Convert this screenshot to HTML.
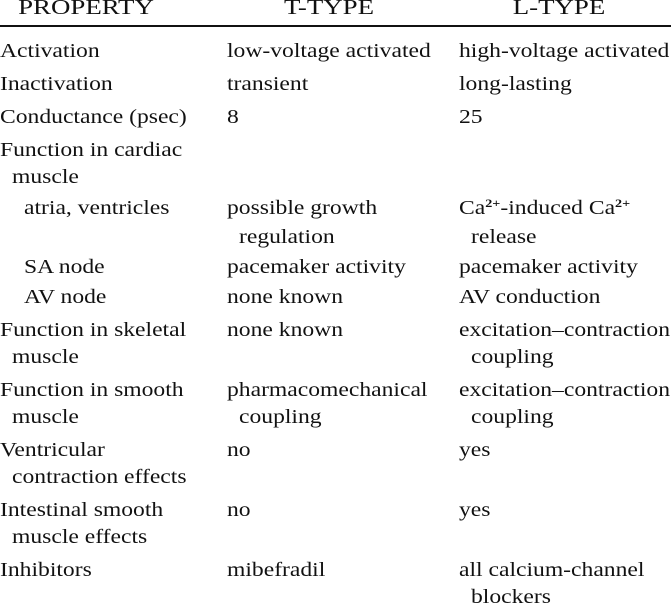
<!DOCTYPE html>
<html><head><meta charset="utf-8"><style>
html,body{margin:0;padding:0;background:#fff;}
body{width:671px;height:611px;position:relative;overflow:hidden;font-family:"Liberation Serif",serif;color:#111;}
.t{position:absolute;font-size:20px;line-height:24px;white-space:nowrap;transform:scaleX(1.18);transform-origin:0 0;}
.h{position:absolute;font-size:21px;line-height:24px;white-space:nowrap;top:-5px;width:200px;text-align:center;transform:scaleX(1.28);transform-origin:center;}
sup{font-size:12px;font-weight:bold;vertical-align:7px;line-height:0;}
.rule{position:absolute;left:0;top:25px;width:671px;height:2px;background:#111;}
</style></head><body>
<div class="h" style="left:-14px">PROPERTY</div>
<div class="h" style="left:229px">T-TYPE</div>
<div class="h" style="left:459px">L-TYPE</div>
<div class="rule"></div>

<div class="t" style="left:0;top:39px">Activation</div>
<div class="t" style="left:227px;top:39px">low-voltage activated</div>
<div class="t" style="left:459px;top:39px">high-voltage activated</div>

<div class="t" style="left:0;top:72px">Inactivation</div>
<div class="t" style="left:227px;top:72px">transient</div>
<div class="t" style="left:459px;top:72px">long-lasting</div>

<div class="t" style="left:0;top:105px">Conductance (psec)</div>
<div class="t" style="left:227px;top:105px">8</div>
<div class="t" style="left:459px;top:105px">25</div>

<div class="t" style="left:0;top:138px">Function in cardiac</div>
<div class="t" style="left:12px;top:165px">muscle</div>

<div class="t" style="left:24px;top:196px">atria, ventricles</div>
<div class="t" style="left:227px;top:196px">possible growth</div>
<div class="t" style="left:239px;top:225px">regulation</div>
<div class="t" style="left:459px;top:196px">Ca<sup>2+</sup>-induced Ca<sup>2+</sup></div>
<div class="t" style="left:471px;top:225px">release</div>

<div class="t" style="left:24px;top:255px">SA node</div>
<div class="t" style="left:227px;top:255px">pacemaker activity</div>
<div class="t" style="left:459px;top:255px">pacemaker activity</div>

<div class="t" style="left:24px;top:285px">AV node</div>
<div class="t" style="left:227px;top:285px">none known</div>
<div class="t" style="left:459px;top:285px">AV conduction</div>

<div class="t" style="left:0;top:318px">Function in skeletal</div>
<div class="t" style="left:12px;top:345px">muscle</div>
<div class="t" style="left:227px;top:318px">none known</div>
<div class="t" style="left:459px;top:318px">excitation–contraction</div>
<div class="t" style="left:471px;top:345px">coupling</div>

<div class="t" style="left:0;top:378px">Function in smooth</div>
<div class="t" style="left:12px;top:405px">muscle</div>
<div class="t" style="left:227px;top:378px">pharmacomechanical</div>
<div class="t" style="left:239px;top:405px">coupling</div>
<div class="t" style="left:459px;top:378px">excitation–contraction</div>
<div class="t" style="left:471px;top:405px">coupling</div>

<div class="t" style="left:0;top:438px">Ventricular</div>
<div class="t" style="left:12px;top:465px">contraction effects</div>
<div class="t" style="left:227px;top:438px">no</div>
<div class="t" style="left:459px;top:438px">yes</div>

<div class="t" style="left:0;top:498px">Intestinal smooth</div>
<div class="t" style="left:12px;top:525px">muscle effects</div>
<div class="t" style="left:227px;top:498px">no</div>
<div class="t" style="left:459px;top:498px">yes</div>

<div class="t" style="left:0;top:558px">Inhibitors</div>
<div class="t" style="left:227px;top:558px">mibefradil</div>
<div class="t" style="left:459px;top:558px">all calcium-channel</div>
<div class="t" style="left:471px;top:585px">blockers</div>
</body></html>
